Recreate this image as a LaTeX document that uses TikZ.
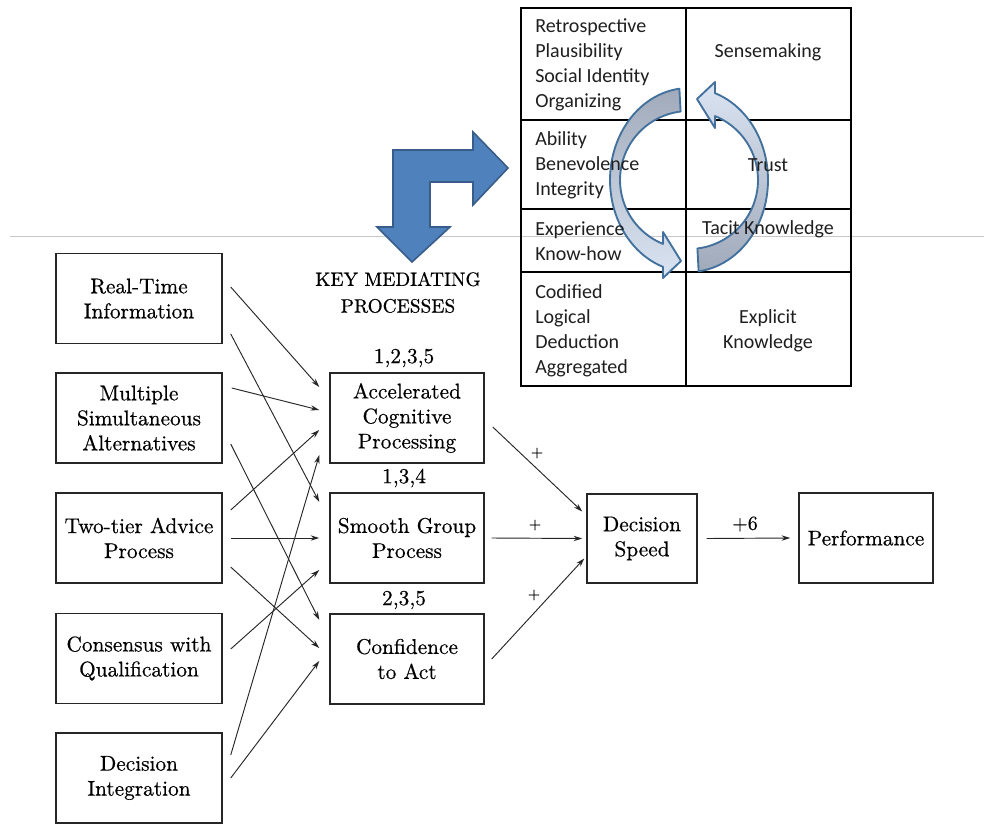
\documentclass[tikz,border=0pt]{standalone}
\usepackage{fontspec}
\newfontfamily\calib{Carlito}
\newfontfamily\scanfont{lmroman10-regular.otf}[FakeBold=0.5]
\usetikzlibrary{calc,arrows.meta}
\definecolor{bentblue}{RGB}{79,129,189}
\definecolor{bentedge}{RGB}{56,93,138}
\definecolor{ringedge}{RGB}{65,113,156}
\definecolor{ringgray}{RGB}{160,170,186}
\definecolor{ringlight}{RGB}{218,228,242}
\begin{document}
\begin{tikzpicture}[x=0.75pt,y=-0.75pt,
  box/.style={draw=black!85, line width=1.1pt, align=center, inner sep=0pt, font=\scanfont\fontsize{16}{18.75}\selectfont},
  lbox/.style={box, minimum width=124.5pt, minimum height=67.5pt},
  mbox/.style={box, minimum width=115.5pt, minimum height=67.5pt},
  arr/.style={line width=0.7pt, black!85, -{Stealth[length=6.5pt,width=4pt]}},
  lab/.style={font=\scanfont\fontsize{16}{18.75}\selectfont, inner sep=0pt},
  plus/.style={font=\scanfont\fontsize{12}{14}\selectfont, inner sep=0pt},
  cell/.style={font=\calib\fontsize{15}{18.75}\selectfont, inner sep=0pt, align=left, text=black!88},
  ccell/.style={font=\calib\fontsize{15}{18.75}\selectfont, inner sep=0pt, align=center, text=black!88},
  tline/.style={line width=1.1pt, black},
  ring/.style={draw=ringedge, line width=1.4pt, line join=round}
]
\useasboundingbox (0,0) rectangle (984,824);
\fill[white] (0,0) rectangle (984,824);
\draw[black!22, line width=0.75pt] (10,236) -- (984,236);

% table
\draw[tline] (521,8) rectangle (851,386);
\draw[tline] (686,8) -- (686,386);
\foreach \yy in {120,209,272} \draw[tline] (521,\yy) -- (851,\yy);

% bent arrow
\draw[fill=bentblue, draw=bentedge, line width=1.2pt, line join=miter]
  (412,262) -- (450,227) -- (430,227) -- (430,182) -- (473,182) -- (473,205)
  -- (508,168) -- (473,132) -- (473,150) -- (393,150) -- (393,227) -- (377,227) -- cycle;

% ring arrows
\path[ring, top color=ringgray, middle color=ringlight!40!white, bottom color=ringlight]
  plot[domain=263:109.2, samples=50, variable=\t] ({689+79*cos(\t)},{180+92*sin(\t)})
  -- (663,278) -- (681,261) -- (663,232)
  -- plot[domain=112.1:263, samples=50, variable=\t] ({689+69*cos(\t)},{180+69*sin(\t)}) -- cycle;
\path[ring, bottom color=ringgray, middle color=ringlight!40!white, top color=ringlight]
  plot[domain=83:-70.8, samples=50, variable=\t] ({689+79*cos(\t)},{180+92*sin(\t)})
  -- (715,82) -- (697,99) -- (715,128)
  -- plot[domain=-67.9:83, samples=50, variable=\t] ({689+69*cos(\t)},{180+69*sin(\t)}) -- cycle;

% table text
\node[cell, anchor=west] (c1) at (535,65) {Retrospective\\Plausibility\\Social Identity\\Organizing};
\node[cell, anchor=west] (c2) at (535,165) {Ability\\Benevolence\\Integrity};
\node[cell, anchor=west] (c3) at (535,241.5) {Experience\\Know-how};
\node[cell, anchor=west] (c4) at (535,331) {Codified\\Logical\\Deduction\\Aggregated};
\node[ccell] (sm1) at (768,52) {Sensemaking};
\node[ccell] (tr) at (768,165) {Trust};
\node[ccell] (tk) at (768,229) {Tacit Knowledge};
\node[ccell] (ek) at (768,331) {Explicit\\Knowledge};

% left boxes
\node[lbox] (rt) at (139,298.5) {Real-Time\\Information};
\node[lbox] (msa) at (139,418) {Multiple\\Simultaneous\\Alternatives};
\node[lbox] (tt) at (139,538) {Two-tier Advice\\Process};
\node[lbox] (cq) at (139,658.5) {Consensus with\\Qualification};
\node[lbox] (di) at (139,778) {Decision\\Integration};

% middle boxes
\node[mbox] (acc) at (407,418) {Accelerated\\Cognitive\\Processing};
\node[mbox] (sm) at (407,538) {Smooth Group\\Process};
\node[mbox] (conf) at (407,659) {Confidence\\to Act};

\node[box, minimum width=82.5pt, minimum height=67pt] (ds) at (642,538.5) {Decision\\Speed};
\node[box, minimum width=100.5pt, minimum height=67.5pt] (perf) at (866,538) {Performance};

% labels
\node[lab, align=center, font=\scanfont\fontsize{14.5}{20}\selectfont] (kmp) at (398,292.5) {KEY MEDIATING\\PROCESSES};
\node[lab] (n1) at (404,358) {1,2,3,5};
\node[lab] (n2) at (404,478) {1,3,4};
\node[lab] (n3) at (404,600) {2,3,5};
\node[plus] (p1) at (537,453) {+};
\node[plus] (p2) at (535,525) {+};
\node[plus] (p3) at (534,595) {+};
\node[lab, font=\scanfont\fontsize{15}{18}\selectfont] (p6) at (745,524) {+6};

% connectors
\draw[arr] ($(rt.east)+(8,-11.5)$) -- ($(acc.west)+(-10,-31)$);
\draw[arr] ($(rt.east)+(8,35.5)$) -- ($(sm.west)+(-10,-36)$);
\draw[arr] ($(msa.east)+(9,-30)$) -- ($(acc.west)+(-10,-8)$);
\draw[arr] ($(msa.east)+(8,26)$) -- ($(conf.west)+(-10,-39)$);
\draw[arr] ($(tt.east)+(8,-28)$) -- ($(acc.west)+(-10,12)$);
\draw[arr] ($(tt.east)+(8,0)$) -- ($(sm.west)+(-10,0)$);
\draw[arr] ($(tt.east)+(8,29)$) -- ($(conf.west)+(-10,-11)$);
\draw[arr] ($(cq.east)+(8,-9.5)$) -- ($(sm.west)+(-10,32)$);
\draw[arr] ($(di.east)+(8,-23)$) -- ($(acc.west)+(-10,37)$);
\draw[arr] ($(di.east)+(8,0)$) -- ($(conf.west)+(-10,2)$);
\draw[arr] ($(acc.east)+(8,9)$) -- ($(ds.west)+(-4,-27)$);
\draw[arr] ($(sm.east)+(7,0)$) -- ($(ds.west)+(-4,0)$);
\draw[arr] ($(conf.east)+(7,0)$) -- ($(ds.west)+(-2,20)$);
\draw[arr] ($(ds.east)+(9,0)$) -- ($(perf.west)+(-8,0)$);
\end{tikzpicture}
\end{document}
